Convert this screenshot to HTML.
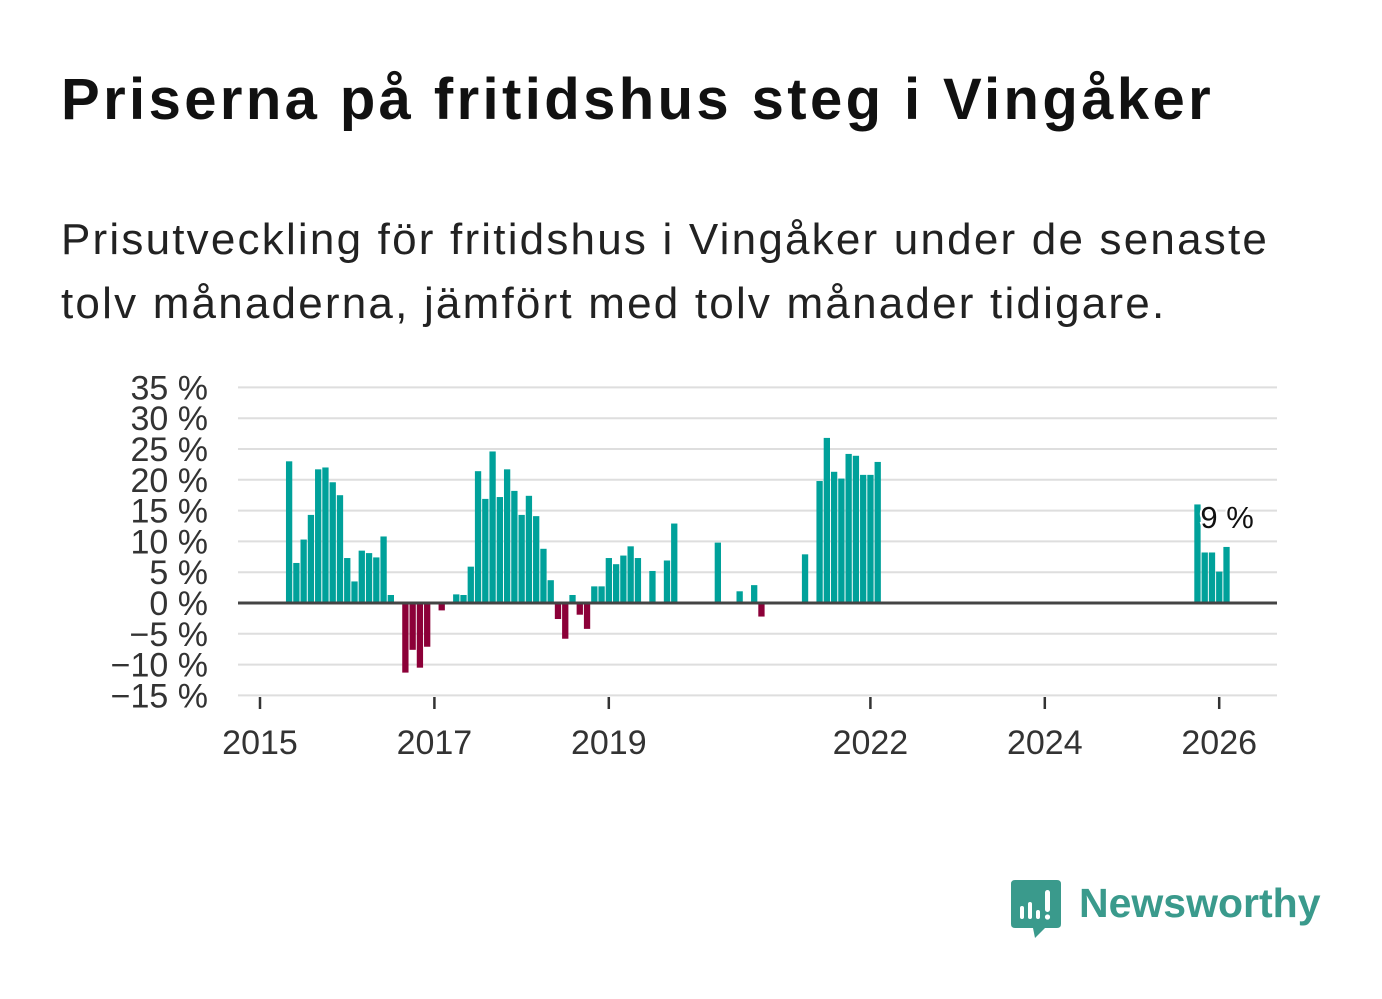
<!DOCTYPE html>
<html><head><meta charset="utf-8">
<style>
body{margin:0;background:#fff;width:1382px;height:999px;overflow:hidden;font-family:"Liberation Sans","DejaVu Sans",sans-serif;}
#title{position:absolute;left:61px;top:66px;font-size:58px;font-weight:bold;color:#111;margin:0;letter-spacing:3.4px;white-space:nowrap}
#sub{position:absolute;left:61px;top:208px;font-size:44px;color:#222;line-height:64px;margin:0;letter-spacing:2.2px;white-space:nowrap}
svg{position:absolute;left:0;top:0}
</style></head><body>
<h1 id="title">Priserna på fritidshus steg i Vingåker</h1>
<p id="sub">Prisutveckling för fritidshus i Vingåker under de senaste<br>tolv månaderna, jämfört med tolv månader tidigare.</p>
<svg id="chart" width="1382" height="999"></svg>
<div style="position:absolute;left:1011px;top:880px;">
<svg width="52" height="60" style="position:absolute;left:0;top:0">
<path d="M4 0H46Q50 0 50 4V44Q50 48 46 48H34L24 58L22 48H4Q0 48 0 44V4Q0 0 4 0Z" fill="#3a9a8c"/>
<rect x="9" y="26" width="4" height="13" rx="2" fill="#fff"/><rect x="17" y="22" width="4" height="17" rx="2" fill="#fff"/><rect x="25" y="30" width="4" height="9" rx="2" fill="#fff"/><rect x="34" y="10" width="5" height="22" rx="2.5" fill="#fff"/><circle cx="36.5" cy="37" r="2.6" fill="#fff"/>
</svg>
<span style="position:absolute;left:68px;top:0px;font-size:41px;font-weight:bold;color:#3a9a8c;white-space:nowrap">Newsworthy</span>
</div>
<script>
const months=[4,5,6,7,8,9,10,11,12,13,14,15,16,17,18,20,21,22,23,25,27,28,29,30,31,32,33,34,35,36,37,38,39,40,41,42,43,44,45,46,47,48,49,50,51,52,54,56,57,63,66,68,69,75,77,78,79,80,81,82,83,84,85,129,130,131,132,133];
const values=[23.0,6.5,10.3,14.3,21.7,22.0,19.6,17.5,7.3,3.5,8.5,8.1,7.4,10.8,1.3,-11.3,-7.6,-10.5,-7.1,-1.2,1.4,1.3,5.9,21.4,16.9,24.6,17.2,21.7,18.2,14.3,17.4,14.1,8.8,3.7,-2.6,-5.8,1.3,-1.9,-4.2,2.7,2.7,7.3,6.3,7.7,9.2,7.3,5.2,6.9,12.9,9.8,1.9,2.9,-2.2,7.9,19.8,26.8,21.3,20.2,24.2,23.9,20.8,20.8,22.9,16.0,8.2,8.2,5.1,9.1];
const yTicks=[35,30,25,20,15,10,5,0,-5,-10,-15];
const xTicks=[2015,2017,2019,2022,2024,2026];
const lastLabel="9 %";
const svg=document.getElementById('chart');
const NS='http://www.w3.org/2000/svg';
const y=v=>603-v*6.16;
const x=m=>260+m*(87.2/12);
function mk(t,a){const e=document.createElementNS(NS,t);for(const k in a)e.setAttribute(k,a[k]);svg.appendChild(e);return e;}
yTicks.forEach(v=>{
 if(v!==0){const g=mk('line',{x1:238,x2:1277,y1:y(v),y2:y(v),stroke:'#dedede','stroke-width':2});
 
 }
 const t=mk('text',{x:208,y:y(v)+12,'text-anchor':'end','font-size':34,fill:'#333','font-family':'Liberation Sans, sans-serif'});
 t.textContent=(v<0?'\u2212'+(-v):v)+' %';
 
 
});
months.forEach((m,i)=>{
 const v=values[i];
 const r=mk('rect',{x:x(m)-3.1,width:6.3,y:v>=0?y(v):y(0),height:Math.abs(y(v)-y(0)),fill:v>=0?'#00a19a':'#8c0038'});
 
 
});
const z=mk('line',{x1:238,x2:1277,y1:y(0),y2:y(0),stroke:'#444','stroke-width':3});


xTicks.forEach(yr=>{
 const xx=260+(yr-2015)*87.2;
 const l=mk('line',{x1:xx,x2:xx,y1:697,y2:709,stroke:'#333','stroke-width':2.5});
 
 
 const t=mk('text',{x:xx,y:754,'text-anchor':'middle','font-size':34,fill:'#333','font-family':'Liberation Sans, sans-serif'});
 t.textContent=yr;
 
 
});
const lm=months[months.length-5];
const lb=mk('text',{x:x(lm)+3,y:528,'font-size':31,fill:'#111',stroke:'#fff','stroke-width':4,'paint-order':'stroke','font-family':'Liberation Sans, sans-serif'});
lb.textContent=lastLabel;


</script>
</body></html>
